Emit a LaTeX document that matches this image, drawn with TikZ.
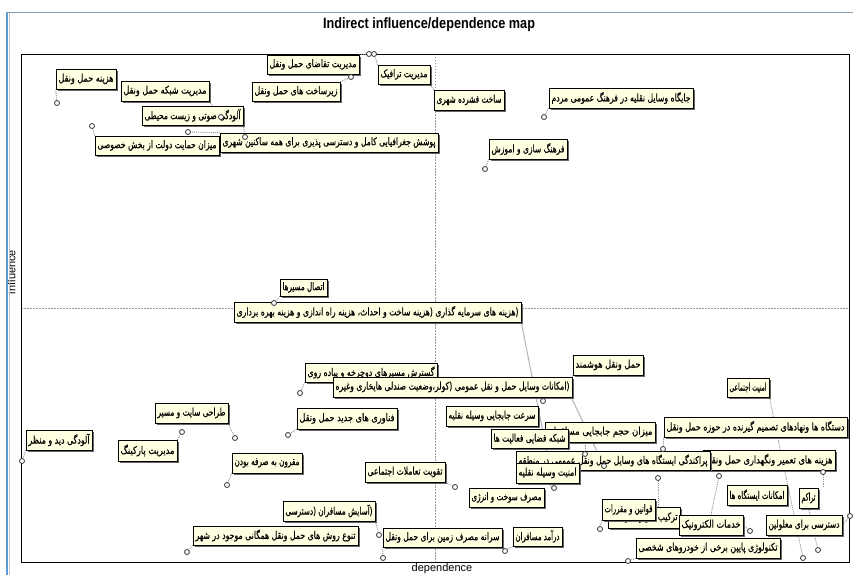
\documentclass[tikz,border=0pt]{standalone}
\usepackage{fontspec}
\usepackage{graphicx}
\usetikzlibrary{shadows}
\setmainfont{Liberation Sans}
\newfontfamily\fafont[Script=Arabic,FakeBold=0.5]{DejaVu Sans}
\TeXXeTstate=1

\definecolor{tipyellow}{HTML}{FFFFE1}
\definecolor{winblue}{HTML}{5B9BD5}
\definecolor{wintop}{HTML}{8A9BB0}

\pgfdeclarelayer{back}
\pgfdeclarelayer{links}
\pgfdeclarelayer{front}
\pgfsetlayers{back,links,main,front}

% Persian caption stretched to a given width (in pt)
\newcommand\fatext[2]{\pgfmathsetlengthmacro\fawidth{#1}%
  \resizebox{\fawidth}{\height}{\fafont\fontsize{10.5}{11}\selectfont #2}}
% variable label: name, left, top, right, bottom, text
\newcommand\flabel[6]{%
  \node[labbox, minimum width={(#4)-(#2)}, minimum height={(#5)-(#3)}]
    (#1) at ({((#2)+(#4))/2},{((#3)+(#5))/2}) {\fatext{(#4)-(#2)-5}{#6}};}

\tikzset{
  labbox/.style={draw=black, line width=0.6pt, fill=tipyellow, inner sep=0pt,
    drop shadow={shadow xshift=1.8pt, shadow yshift=-1.8pt, fill=black!60, opacity=1}},
  vdot/.style={circle, draw=black!80, fill=white, line width=0.8pt, inner sep=0pt, minimum size=5pt},
  link/.style={draw=gray!85, densely dotted, line width=0.9pt},
  trunk/.style={draw=gray!55, line width=1.1pt},
  midline/.style={draw=gray!80, dash pattern=on 1.5pt off 1.5pt, line width=0.5pt}
}

\begin{document}
\begin{tikzpicture}[x=1pt, y=-1pt]
\useasboundingbox (0,0) rectangle (853,575);

\begin{pgfonlayer}{back}
  \fill[white] (0,0) rectangle (853,575);
  \node[rotate=90, inner sep=0pt] (ylab) at (11.5,272) {\fontsize{11}{12}\selectfont influence};
  \draw[line width=2pt, winblue] (7,12) -- (7,575);
  \draw[line width=0.8pt, gray!45] (9.3,13) -- (9.3,575);
  \draw[line width=1.2pt, wintop] (6,12.2) -- (853,12.2);
  \node[inner sep=0pt] (title) at (429,25)
    {\resizebox{212pt}{\height}{\fontsize{15}{16}\selectfont\bfseries Indirect influence/dependence map}};
  \draw[midline] (435,54) -- (435,562);
  \draw[midline] (21,308) -- (849,308);
  \draw[line width=0.9pt] (21,54) rectangle (849,562);
  \node[inner sep=0pt] (xlab) at (442,569) {\fontsize{11}{12}\selectfont dependence};
\end{pgfonlayer}

% ---- variable labels (later ones lie on top) ----
\flabel{hml}{56}{69}{116}{89}{\beginR هزینه حمل ونقل\endR}
\flabel{shabake}{121}{81}{209}{101}{\beginR مدیریت شبکه حمل ونقل\endR}
\flabel{aloodegi}{142}{106}{243}{125}{\beginR آلودگی صوتی و زیست محیطی\endR}
\flabel{hemayat}{95}{136}{219}{155}{\beginR میزان حمایت دولت از بخش خصوصی\endR}
\flabel{pooshesh}{220}{133}{438}{152}{\beginR پوشش جغرافیایی کامل و دسترسی پذیری برای همه ساکنین شهری\endR}
\flabel{taghaza}{267}{55}{359}{74}{\beginR مدیریت تقاضای حمل ونقل\endR}
\flabel{zirsakht}{252}{82}{340}{101}{\beginR زیرساخت های حمل ونقل\endR}
\flabel{terafik}{378}{65}{430}{84}{\beginR مدیریت ترافیک\endR}
\flabel{sakht}{434}{90}{504}{110}{\beginR ساخت فشرده شهری\endR}
\flabel{jaygah}{549}{88}{693}{108}{\beginR جایگاه وسایل نقلیه در فرهنگ عمومی مردم\endR}
\flabel{farhang}{489}{139}{567}{159}{\beginR فرهنگ سازی و اموزش\endR}
\flabel{ettesal}{280}{279}{327}{296}{\beginR اتصال مسیرها\endR}
\flabel{sarmaye}{234}{302}{521}{322}{\beginR (هزینه های سرمایه گذاری (هزینه ساخت و احداث، هزینه راه اندازی و هزینه بهره برداری\endR}
\flabel{gostaresh}{305}{363}{437}{382}{\beginR گسترش مسیرهای دوچرخه و پیاده روی\endR}
\flabel{emkanat}{333}{377}{572}{397}{\beginR (امکانات وسایل حمل و نقل عمومی (کولر،وضعیت صندلی هایخاری وغیره\endR}
\flabel{hooshmand}{573}{355}{643}{375}{\beginR حمل ونقل هوشمند\endR}
\flabel{amniatEj}{727}{378}{769}{397}{\beginR امنیت اجتماعی\endR}
\flabel{sorat}{446}{406}{538}{426}{\beginR سرعت جابجایی وسیله نقلیه\endR}
\flabel{mizan}{545}{422}{655}{442}{\beginR میزان حجم جابجایی مسافران\endR}
\flabel{shabakeF}{491}{429}{568}{448}{\beginR شبکه فضایی فعالیت ها\endR}
\flabel{dastgah}{664}{417}{847}{437}{\beginR دستگاه ها ونهادهای تصمیم گیرنده در حوزه حمل ونقل\endR}
\flabel{tamir}{703}{450}{835}{470}{\beginR هزینه های تعمیر ونگهداری حمل ونقل\endR}
\flabel{parakandegi}{516}{451}{710}{470}{\beginR پراکندگی ایستگاه های وسایل حمل ونقل عمومی در منطقه\endR}
\flabel{amniatV}{516}{463}{579}{483}{\beginR امنیت وسیله نقلیه\endR}
\flabel{taghviat}{365}{462}{445}{482}{\beginR تقویت تعاملات اجتماعی\endR}
\flabel{masraf}{469}{488}{544}{507}{\beginR مصرف سوخت و انرژی\endR}
\flabel{tarkib}{608}{507}{680}{528}{\beginR ترکیب کاربری اراضی\endR}
\flabel{ghavanin}{602}{499}{655}{520}{\beginR قوانین و مقررات\endR}
\flabel{khadamat}{679}{515}{743}{535}{\beginR خدمات الکترونیک\endR}
\flabel{emkanatIst}{727}{485}{787}{505}{\beginR امکانات ایستگاه ها\endR}
\flabel{tarakom}{799}{488}{818}{508}{تراکم}
\flabel{dastrasi}{766}{515}{842}{535}{\beginR دسترسی برای معلولین\endR}
\flabel{teknoloji}{636}{538}{780}{558}{\beginR تکنولوژی پایین برخی  از خودروهای شخصی\endR}
\flabel{daramad}{513}{527}{562}{546}{\beginR درآمد مسافران\endR}
\flabel{saraneh}{383}{528}{502}{547}{\beginR سرانه مصرف زمین برای حمل ونقل\endR}
\flabel{asayesh}{283}{501}{375}{521}{\beginR (آسایش مسافران (دسترسی\endR}
\flabel{tanavo}{193}{526}{358}{545}{\beginR تنوع روش های حمل ونقل همگانی موجود در شهر\endR}
\flabel{aloodegiDid}{26}{430}{92}{450}{\beginR آلودگی دید و منظر\endR}
\flabel{tarahi}{155}{403}{228}{423}{\beginR طراحی سایت و مسیر\endR}
\flabel{parking}{118}{440}{177}{461}{\beginR مدیریت پارکینگ\endR}
\flabel{fanavari}{297}{408}{397}{429}{\beginR فناوری های جدید حمل ونقل\endR}
\flabel{maghroon}{232}{453}{302}{473}{\beginR مقرون به صرفه بودن\endR}

% ---- plotted positions ----
\begin{pgfonlayer}{front}
  \node[vdot] (pHml) at (57,103) {};
  \node[vdot] (pShabake) at (221,117) {};
  \node[vdot] (pAloodegi) at (245,137) {};
  \node[vdot] (pHemayat) at (92,126) {};
  \node[vdot] (pPooshesh) at (188,132) {};
  \node[vdot] (pTaghaza) at (369,54) {};
  \node[vdot] (pTerafik) at (374,54) {};
  \node[vdot] (pZirsakht) at (351,77) {};
  \coordinate (cSakht) at (431,86);
  \node[vdot] (pJaygah) at (544,117) {};
  \node[vdot] (pFarhang) at (485,169) {};
  \node[vdot] (pEttesal) at (274,303) {};
  \node[vdot] (pSarmaye) at (554,488) {};
  \node[vdot] (pGostaresh) at (300,393) {};
  \node[vdot] (pEmkanat) at (543,401) {};
  \node[vdot] (pHooshmand) at (604,466) {};
  \coordinate (cBend) at (572,399);
  \node[vdot] (pMizan) at (585,454) {};
  \node[vdot] (pAmniatEj) at (803,558) {};
  \node[vdot] (pDastgah) at (663,449) {};
  \node[vdot] (pTamir) at (823,472) {};
  \node[vdot] (pAux) at (719,476) {};
  \node[vdot] (pKhadamat) at (750,531) {};
  \node[vdot] (pTarkib) at (658,478) {};
  \node[vdot] (pGhavanin) at (600,529) {};
  \node[vdot] (pTarakom) at (818,550) {};
  \node[vdot] (pDastrasi) at (850,516) {};
  \node[vdot] (pTeknoloji) at (628,561) {};
  \node[vdot] (pDaramad) at (505,551) {};
  \node[vdot] (pSaraneh) at (383,558) {};
  \node[vdot] (pAsayesh) at (379,535) {};
  \node[vdot] (pTanavo) at (187,552) {};
  \node[vdot] (pAloodegiDid) at (22,461) {};
  \node[vdot] (pTarahi) at (235,438) {};
  \node[vdot] (pParking) at (182,432) {};
  \node[vdot] (pFanavari) at (288,435) {};
  \node[vdot] (pMaghroon) at (227,485) {};
  \node[vdot] (pTaghviat) at (455,487) {};
\end{pgfonlayer}

% ---- leader lines from labels to their positions ----
\begin{pgfonlayer}{links}
  \draw[link] (hml.south west) -- (pHml);
  \draw[link] (shabake.south east) -- (pShabake);
  \draw[link] (aloodegi.south east) -- (pAloodegi);
  \draw[link] (hemayat.north west) -- (pHemayat);
  \draw[link] (pooshesh.north west) -- (pPooshesh);
  \draw[link] (taghaza.north east) -- (pTaghaza);
  \draw[link] (terafik.north west) -- (pTerafik);
  \draw[link] (zirsakht.north east) -- (pZirsakht);
  \draw[link] (sakht.north west) -- (cSakht);
  \draw[link] (jaygah.south west) -- (pJaygah);
  \draw[link] (farhang.south west) -- (pFarhang);
  \draw[link] (ettesal.south west) -- (pEttesal);
  \draw[trunk] (sarmaye.south east) -- (pSarmaye);
  \draw[link] (gostaresh.south west) -- (pGostaresh);
  \draw[link] (pEmkanat) -- (pEmkanat |- emkanat.south);
  \draw[trunk] (hooshmand.south west) -- (cBend) -- (pHooshmand);
  \draw[link] (pMizan) -- (pMizan |- mizan.south);
  \draw[link] (amniatEj.south east) -- (pAmniatEj);
  \draw[link] (dastgah.south west) -- (pDastgah);
  \draw[link] (pTamir) -- (pTamir |- tamir.south);
  \draw[link] (pTamir) -- (pTamir |- tarakom.north);
  \draw[link] (khadamat.north) -- (pAux);
  \draw[link] (khadamat.east) -- (pKhadamat);
  \draw[link] (pTarkib) -- (pTarkib |- tarkib.north);
  \draw[link] (ghavanin.south west) -- (pGhavanin);
  \draw[link] (tarakom.south) -- (pTarakom);
  \draw[link] (dastrasi.east) -- (pDastrasi);
  \draw[link] (teknoloji.south west) -- (pTeknoloji);
  \draw[link] (daramad.south west) -- (pDaramad);
  \draw[link] (saraneh.south west) -- (pSaraneh);
  \draw[link] (asayesh.south east) -- (pAsayesh);
  \draw[link] (tanavo.south west) -- (pTanavo);
  \draw[link] (aloodegiDid.south west) -- (pAloodegiDid);
  \draw[link] (tarahi.south east) -- (pTarahi);
  \draw[link] (parking.north east) -- (pParking);
  \draw[link] (fanavari.south west) -- (pFanavari);
  \draw[link] (maghroon.south west) -- (pMaghroon);
  \draw[link] (taghviat.south east) -- (pTaghviat);
  \draw[link] (amniatV.south) -- (pSarmaye);
\end{pgfonlayer}
\end{tikzpicture}
\end{document}
